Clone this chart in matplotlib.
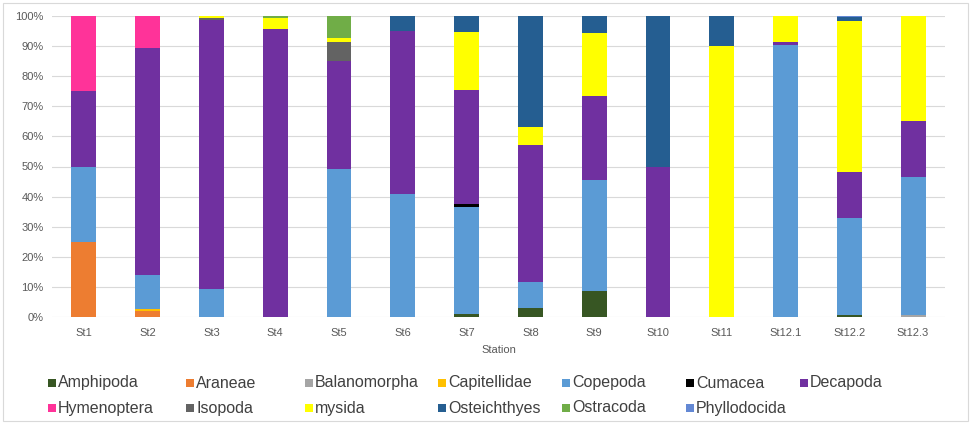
import numpy as np
import matplotlib.pyplot as plt
from matplotlib.patches import Rectangle
from matplotlib.ticker import PercentFormatter

plt.rcParams['font.family'] = ['Liberation Sans', 'DejaVu Sans']

stations = ['St1', 'St2', 'St3', 'St4', 'St5', 'St6', 'St7', 'St8', 'St9',
            'St10', 'St11', 'St12.1', 'St12.2', 'St12.3']

# percentage of each taxon per station (stack order bottom -> top)
amphipoda    = [0, 0, 0, 0, 0, 0, 1.0, 2.9, 8.8, 0, 0, 0, 0.8, 0]
araneae      = [25, 2.0, 0, 0, 0, 0, 0, 0, 0, 0, 0, 0, 0, 0]
balanomorpha = [0, 0, 0, 0, 0, 0, 0, 0, 0, 0, 0, 0, 0, 0.8]
capitellidae = [0, 0.5, 0, 0, 0, 0, 0, 0, 0, 0, 0, 0, 0, 0]
copepoda     = [25, 11.5, 9.2, 0, 49.3, 40.7, 35.5, 8.8, 36.7, 0, 0, 90.5, 32.2, 45.8]
cumacea      = [0, 0, 0, 0, 0, 0, 1.1, 0, 0, 0, 0, 0, 0, 0]
decapoda     = [25, 75.5, 89.6, 95.6, 35.9, 54.3, 37.7, 45.4, 27.8, 50, 0, 0.8, 15.2, 18.6]
hymenoptera  = [25, 10.5, 0, 0, 0, 0, 0, 0, 0, 0, 0, 0, 0, 0]
isopoda      = [0, 0, 0.5, 0, 6.0, 0, 0, 0, 0, 0, 0, 0, 0, 0]
mysida       = [0, 0, 0.7, 3.7, 1.5, 0, 19.3, 6.1, 21.2, 0, 90, 8.7, 50.2, 34.8]
osteichthyes = [0, 0, 0, 0, 0, 5.0, 5.4, 36.8, 5.5, 50, 10, 0, 1.2, 0]
ostracoda    = [0, 0, 0, 0.7, 7.3, 0, 0, 0, 0, 0, 0, 0, 0.2, 0]
phyllodocida = [0, 0, 0, 0, 0, 0, 0, 0, 0, 0, 0, 0, 0.4, 0]

series = [
    ('Amphipoda', amphipoda, '#375623'),
    ('Araneae', araneae, '#ED7D31'),
    ('Balanomorpha', balanomorpha, '#A5A5A5'),
    ('Capitellidae', capitellidae, '#FFC000'),
    ('Copepoda', copepoda, '#5B9BD5'),
    ('Cumacea', cumacea, '#000000'),
    ('Decapoda', decapoda, '#7030A0'),
    ('Hymenoptera', hymenoptera, '#FF3399'),
    ('Isopoda', isopoda, '#636363'),
    ('mysida', mysida, '#FFFF00'),
    ('Osteichthyes', osteichthyes, '#255E91'),
    ('Ostracoda', ostracoda, '#70AD47'),
    ('Phyllodocida', phyllodocida, '#6388D4'),
]

W, H = 971, 424
fig = plt.figure(figsize=(W / 100, H / 100), dpi=100)
ax = fig.add_axes([52 / W, 107 / H, 893 / W, 301 / H])

x = np.arange(len(stations))
bottom = np.zeros(len(stations))
for name, vals, col in series:
    vals = np.array(vals, dtype=float)
    ax.bar(x, vals, width=0.39, bottom=bottom, color=col, linewidth=0, zorder=3)
    bottom += vals

ax.set_xlim(-0.5, len(stations) - 0.5)
ax.set_ylim(0, 100)
ax.set_yticks(np.arange(0, 101, 10))
ax.yaxis.set_major_formatter(PercentFormatter(decimals=0))
ax.set_xticks(x)
ax.set_xticklabels(stations)
ax.grid(axis='y', color='#D9D9D9', linewidth=0.8, zorder=0)
for s in ax.spines.values():
    s.set_visible(False)
ax.tick_params(length=0, labelsize=8, colors='#595959', pad=8)
ax.tick_params(axis='y', pad=6)
ax.set_xlabel('Station', fontsize=8, color='#595959', labelpad=5)

# two-row legend, entries laid out row by row (pixel columns)
col_x = [48, 186, 305, 438, 562, 686, 800]
row_y = [383, 408]
for i, (name, vals, col) in enumerate(series):
    r, c = divmod(i, 7)
    px, py = col_x[c], row_y[r]
    fig.add_artist(Rectangle((px / W, (H - py - 4) / H), 8 / W, 8 / H,
                             transform=fig.transFigure, facecolor=col,
                             edgecolor='none'))
    fig.text((px + 10) / W, (H - py) / H, name, fontsize=11.5,
             color='#404040', va='center', ha='left')

fig.add_artist(Rectangle((3 / W, 3 / H), 965 / W, 418 / H,
                         transform=fig.transFigure, fill=False,
                         edgecolor='#D9D9D9', linewidth=0.8))

fig.savefig('out.png', dpi=100)
